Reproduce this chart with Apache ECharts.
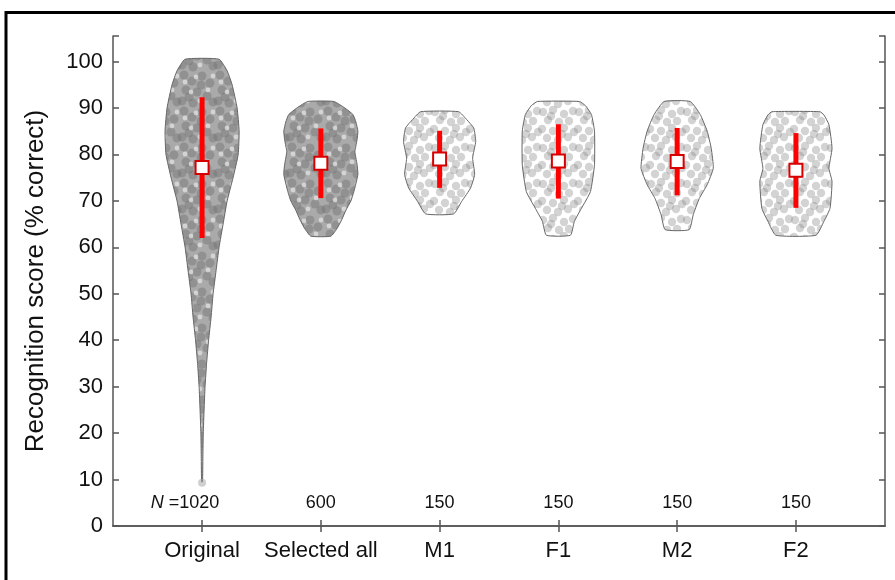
<html>
  <head>
    <meta charset="utf-8" />
    <script src="https://cdn.jsdelivr.net/npm/echarts@6/dist/echarts.min.js"></script>
  </head>
  <body>
    <style>
      html,
      body,
      #main {
        width: 100%;
        height: 100%;
        margin: 0;
        background: #fff;
      }
    </style>
    <div id="main"></div>
    <script>
      var chart = echarts.init(document.getElementById('main'));

      // groups on the x axis (positions 1..6)
      const categories = ['Original', 'Selected all', 'M1', 'F1', 'M2', 'F2'];
      const counts = [1020, 600, 150, 150, 150, 150];

      // mean and mean +/- SD
      const means = [77.2, 78.1, 79.0, 78.6, 78.5, 76.6];
      const sdLow = [62.0, 70.6, 72.8, 70.5, 71.2, 68.5];
      const sdHigh = [92.3, 85.6, 85.1, 86.5, 85.7, 84.6];

      // violin outlines: [score, half width in x units], bottom -> top
      const violinOriginal = [
        [9.5, 0.004], [15, 0.007], [20, 0.01], [25, 0.017], [30, 0.025],
        [35, 0.038], [40, 0.055], [45, 0.076], [50, 0.093], [55, 0.118],
        [60, 0.143], [65, 0.177], [70, 0.211], [75, 0.261], [80, 0.304],
        [85, 0.312], [90, 0.295], [95, 0.253], [98, 0.211], [100.5, 0.143]
      ];
      const violinSelected = [
        [62.4, 0.084], [64, 0.135], [66, 0.177], [68, 0.211], [70, 0.253],
        [72, 0.278], [75.7, 0.312], [78, 0.304], [80.6, 0.287], [83, 0.304],
        [85, 0.312], [87, 0.295], [88.6, 0.27], [90, 0.202], [91.4, 0.11]
      ];
      const violinM1 = [
        [67.2, 0.118], [69.9, 0.186], [72.8, 0.261], [75.7, 0.295], [79.2, 0.278],
        [82.8, 0.304], [85.7, 0.287], [87.5, 0.228], [89.2, 0.16]
      ];
      const violinF1 = [
        [62.6, 0.101], [65.6, 0.135], [68.4, 0.194], [72, 0.27], [77.8, 0.304],
        [85, 0.304], [88.6, 0.278], [90.5, 0.228], [91.4, 0.177]
      ];
      const violinM2 = [
        [63.8, 0.101], [67, 0.135], [70.5, 0.186], [73.5, 0.253], [77, 0.304],
        [81.3, 0.287], [85, 0.253], [88.6, 0.194], [91.4, 0.11]
      ];
      const violinF2 = [
        [62.6, 0.169], [65.6, 0.236], [68.4, 0.287], [74.2, 0.304], [77, 0.278],
        [81.3, 0.304], [86.4, 0.278], [88.5, 0.236], [89.2, 0.202]
      ];
      const violins = [violinOriginal, violinSelected, violinM1, violinF1, violinM2, violinF2];
      const lowestOriginal = [[1, 9.3]];

      const FONT = "'Liberation Sans', Arial, sans-serif";
      const TEXT = '#111';

      // dot textures standing in for the jittered individual scores
      function makeTile(size, base, dots, color, r) {
        var c = document.createElement('canvas');
        c.width = size;
        c.height = size;
        var ctx = c.getContext('2d');
        if (base) {
          ctx.fillStyle = base;
          ctx.fillRect(0, 0, size, size);
        }
        ctx.fillStyle = color;
        dots.forEach(function (d) {
          [-size, 0, size].forEach(function (ox) {
            [-size, 0, size].forEach(function (oy) {
              ctx.beginPath();
              ctx.arc(d[0] + ox, d[1] + oy, r, 0, Math.PI * 2);
              ctx.fill();
            });
          });
        });
        return c;
      }
      var sparseDots = [
        [3, 4], [13, 2], [24, 6], [33, 3], [8, 12], [19, 14], [29, 13],
        [2, 21], [13, 23], [24, 20], [34, 24], [7, 30], [18, 32], [28, 29],
        [22, 26], [11, 8]
      ];
      var denseDots = [
        [4, 3], [12, 9], [22, 4], [30, 11], [6, 18], [17, 20], [27, 24],
        [2, 29], [13, 31], [33, 30], [21, 13], [9, 25]
      ];
      var lightDots = [[16, 5], [28, 18], [5, 10], [20, 29], [33, 4], [11, 20]];
      var sparseTile = makeTile(36, null, sparseDots, 'rgba(140,140,140,0.38)', 4.2);
      var denseTile = makeTile(36, '#aaaaaa', denseDots, 'rgba(115,115,115,0.45)', 4.5);
      var dctx = denseTile.getContext('2d');
      dctx.fillStyle = 'rgba(240,240,240,0.6)';
      lightDots.forEach(function (d) {
        dctx.beginPath();
        dctx.arc(d[0], d[1], 2.4, 0, Math.PI * 2);
        dctx.fill();
      });

      function renderViolin(params, api) {
        var idx = api.value(0) - 1;
        var prof = violins[idx];
        var cx = idx + 1;
        var pts = [];
        for (var i = 0; i < prof.length; i++) {
          pts.push(api.coord([cx + prof[i][1], prof[i][0]]));
        }
        for (var j = prof.length - 1; j >= 0; j--) {
          pts.push(api.coord([cx - prof[j][1], prof[j][0]]));
        }
        return {
          type: 'polygon',
          shape: { points: pts, smooth: 0.15 },
          style: {
            fill: { image: idx < 2 ? denseTile : sparseTile, repeat: 'repeat' },
            stroke: '#666',
            lineWidth: 1
          }
        };
      }

      function renderBar(params, api) {
        var x = api.value(0);
        var lo = api.coord([x, api.value(1)]);
        var hi = api.coord([x, api.value(2)]);
        var m = api.coord([x, api.value(3)]);
        var s = 13;
        return {
          type: 'group',
          children: [
            {
              type: 'line',
              shape: { x1: lo[0], y1: lo[1], x2: hi[0], y2: hi[1] },
              style: { stroke: '#ff0000', lineWidth: 5 }
            },
            {
              type: 'rect',
              shape: { x: m[0] - s / 2, y: m[1] - s / 2, width: s, height: s },
              style: { fill: '#fff', stroke: '#d60000', lineWidth: 2 }
            }
          ]
        };
      }

      var barData = categories.map(function (c, i) {
        return [i + 1, sdLow[i], sdHigh[i], means[i]];
      });
      var nData = counts.map(function (n, i) {
        var item = { value: [i + 1, 5] };
        if (i === 0) {
          item.label = { formatter: '{i|N} =' + n, offset: [-17, 0] };
        }
        return item;
      });

      var positions = [1, 2, 3, 4, 5, 6];
      var axisLineStyle = { color: '#555', width: 1.5 };

      var option = {
        backgroundColor: '#fff',
        animation: false,
        textStyle: { fontFamily: FONT },
        graphic: [
          {
            type: 'rect',
            shape: { x: 6, y: 12.5, width: 1000, height: 1000 },
            style: { fill: 'none', stroke: '#000', lineWidth: 3 },
            silent: true
          }
        ],
        grid: { left: 113, right: 10, top: 36, bottom: 54 },
        xAxis: [
          {
            type: 'value',
            min: 0.25,
            max: 6.75,
            position: 'bottom',
            axisLine: { lineStyle: axisLineStyle },
            axisTick: { inside: true, length: 6, customValues: positions, lineStyle: axisLineStyle },
            axisLabel: {
              customValues: positions,
              formatter: function (v) { return categories[Math.round(v) - 1] || ''; },
              fontSize: 22,
              color: TEXT,
              margin: 14
            },
            splitLine: { show: false }
          },
          {
            type: 'value',
            min: 0.25,
            max: 6.75,
            position: 'top',
            axisLine: { lineStyle: axisLineStyle },
            axisTick: { inside: true, length: 6, customValues: positions, lineStyle: axisLineStyle },
            axisLabel: { show: false },
            splitLine: { show: false }
          }
        ],
        yAxis: [
          {
            type: 'value',
            min: 0,
            max: 105.5,
            interval: 10,
            name: 'Recognition score (% correct)',
            nameLocation: 'middle',
            nameGap: 64,
            nameTextStyle: { fontSize: 26, color: TEXT, fontFamily: FONT },
            axisLine: { show: true, lineStyle: axisLineStyle },
            axisTick: { show: true, inside: true, length: 6, lineStyle: axisLineStyle },
            axisLabel: {
              fontSize: 22,
              color: TEXT,
              margin: 10,
              formatter: function (v) { return v % 10 === 0 ? v : ''; }
            },
            splitLine: { show: false }
          },
          {
            type: 'value',
            min: 0,
            max: 105.5,
            interval: 10,
            position: 'right',
            axisLine: { show: true, lineStyle: axisLineStyle },
            axisTick: { show: true, inside: true, length: 6, lineStyle: axisLineStyle },
            axisLabel: { show: false },
            splitLine: { show: false }
          }
        ],
        series: [
          {
            type: 'custom',
            name: 'violins',
            renderItem: renderViolin,
            data: [[1], [2], [3], [4], [5], [6]],
            silent: true,
            z: 2
          },
          {
            type: 'scatter',
            data: lowestOriginal,
            symbolSize: 8,
            itemStyle: { color: 'rgba(170,170,170,0.7)' },
            silent: true,
            z: 3
          },
          {
            type: 'custom',
            name: 'mean and SD',
            renderItem: renderBar,
            data: barData,
            silent: true,
            z: 4
          },
          {
            type: 'scatter',
            name: 'N',
            data: nData,
            symbolSize: 0,
            silent: true,
            itemStyle: { opacity: 1 },
            label: {
              show: true,
              position: 'inside',
              fontSize: 18,
              color: TEXT,
              opacity: 1,
              fontFamily: FONT,
              formatter: function (p) { return String(counts[p.dataIndex]); },
              rich: {
                i: { fontStyle: 'italic', fontSize: 18, color: TEXT, fontFamily: FONT }
              }
            },
            z: 5
          }
        ]
      };

      chart.setOption(option);

      window.onresize = function () {
        chart.resize();
      };
    </script>
  </body>
</html>
